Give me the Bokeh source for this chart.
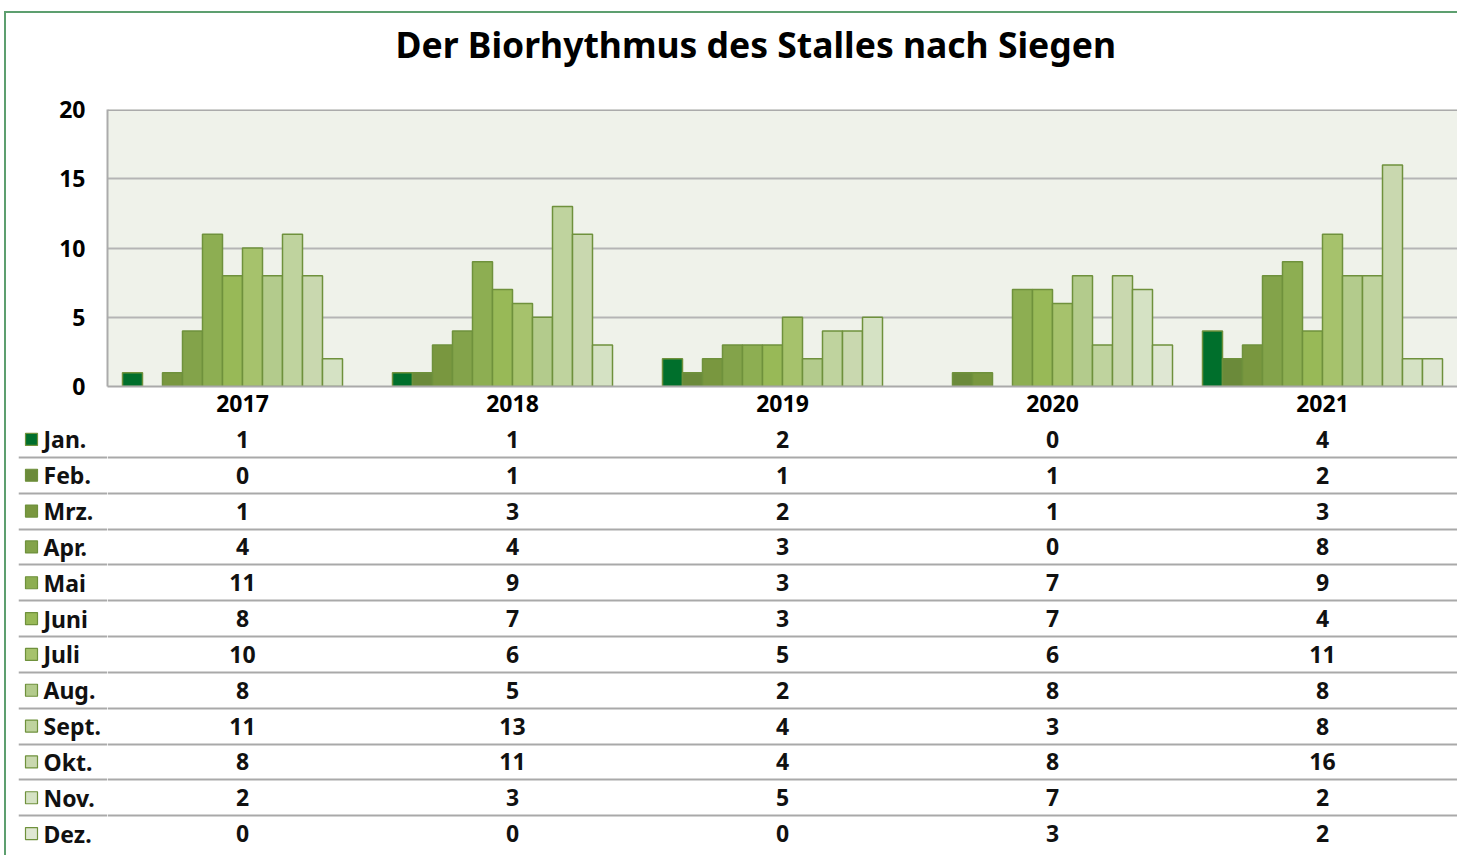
from bokeh.plotting import figure
from bokeh.models import (ColumnDataSource, FactorRange, Range1d, FixedTicker,
                          Grid, Span, Title)
from bokeh.layouts import column, row
from bokeh.transform import dodge
from bokeh.core.properties import value
from bokeh.embed import file_html
from bokeh.resources import INLINE

# ---------------- data ----------------
years = ["2017", "2018", "2019", "2020", "2021"]
months = ["Jan.", "Feb.", "Mrz.", "Apr.", "Mai", "Juni", "Juli",
          "Aug.", "Sept.", "Okt.", "Nov.", "Dez."]

jan = [1, 1, 2, 0, 4]
feb = [0, 1, 1, 1, 2]
mrz = [1, 3, 2, 1, 3]
apr = [4, 4, 3, 0, 8]
mai = [11, 9, 3, 7, 9]
jun = [8, 7, 3, 7, 4]
jul = [10, 6, 5, 6, 11]
aug = [8, 5, 2, 8, 8]
sep = [11, 13, 4, 3, 8]
okt = [8, 11, 4, 8, 16]
nov = [2, 3, 5, 7, 2]
dez = [0, 0, 0, 3, 2]
counts = [jan, feb, mrz, apr, mai, jun, jul, aug, sep, okt, nov, dez]

title_text = "Der Biorhythmus des Stalles nach Siegen"
y_ticks = [0, 5, 10, 15, 20]

colors = ["#006f2c", "#6b8a3a", "#79973f", "#83a34a", "#8dae52", "#98b957",
          "#a6c26c", "#b3cb8c", "#bfd39e", "#c9d8af", "#d5e2c4", "#dfe7d3"]
outline = "#6f913c"
FONT = "Noto Sans"
W = 1451
LEFT = 101

# ---------------- title strip ----------------
pt = figure(width=W, height=81, x_range=Range1d(0, 1), y_range=Range1d(0, 1),
            x_axis_type=None, y_axis_type=None, output_backend="svg",
            toolbar_location=None, min_border_left=LEFT, min_border_right=0,
            min_border_top=0, min_border_bottom=0, outline_line_color=None,
            background_fill_color="white", border_fill_color="white")
pt.title = Title(text=title_text, text_font=FONT, text_font_size="35.5px",
                 text_font_style="bold", text_color="black", align="left",
                 offset=288, standoff=9)

# ---------------- chart ----------------
pa = figure(width=W, height=326, x_range=FactorRange(*years, range_padding=0),
            y_range=Range1d(0, 20), output_backend="svg", toolbar_location=None,
            min_border_left=LEFT, min_border_right=0, min_border_top=15,
            min_border_bottom=34, background_fill_color="#eff2ea",
            border_fill_color="white", outline_line_color=None)

bar_w = 1 / 13.5
for j, (m, vals, c) in enumerate(zip(months, counts, colors)):
    ys = [y for y, v in zip(years, vals) if v > 0]
    vs = [v for v in vals if v > 0]
    src = ColumnDataSource(dict(year=ys, count=vs))
    pa.vbar(x=dodge("year", (j - 5.5) * bar_w, range=pa.x_range), top="count",
            width=bar_w, source=src, fill_color=c, line_color=outline,
            line_width=1.5)

pa.xgrid.grid_line_color = None
pa.ygrid.ticker = FixedTicker(ticks=y_ticks)
pa.ygrid.grid_line_color = "#b5b5b5"
pa.ygrid.grid_line_width = 2
pa.add_layout(Span(location=y_ticks[-1], dimension="width",
                   line_color="#ababab", line_width=3))

pa.yaxis.ticker = FixedTicker(ticks=y_ticks)
pa.yaxis.axis_line_color = "#ababab"
pa.yaxis.axis_line_width = 2
pa.yaxis.major_tick_out = 0
pa.yaxis.major_tick_in = 0
pa.yaxis.minor_tick_out = 0
pa.yaxis.major_label_standoff = 22
pa.yaxis.major_label_text_font = FONT
pa.yaxis.major_label_text_font_size = "23px"
pa.yaxis.major_label_text_font_style = "bold"
pa.yaxis.major_label_text_color = "black"

pa.xaxis.axis_line_color = "#aaaaaa"
pa.xaxis.axis_line_width = 2
pa.xaxis.major_tick_out = 0
pa.xaxis.major_tick_in = 0
pa.xaxis.major_label_standoff = 8
pa.xaxis.major_label_text_font = FONT
pa.xaxis.major_label_text_font_size = "23px"
pa.xaxis.major_label_text_font_style = "bold"
pa.xaxis.major_label_text_color = "black"

# ---------------- table ----------------
row_range = FactorRange(*reversed(months), range_padding=0)
sep_ticker = FixedTicker(ticks=list(range(1, 12)))

# left part: legend swatches + month names
pl = figure(width=LEFT, height=435, x_range=Range1d(0, 89), y_range=row_range,
            x_axis_type=None, y_axis_type=None, output_backend="svg",
            toolbar_location=None, min_border_left=12, min_border_right=0,
            min_border_top=1, min_border_bottom=4, outline_line_color=None,
            background_fill_color="white", border_fill_color="white")
pl.add_layout(Grid(dimension=1, ticker=sep_ticker, grid_line_color="#a9a9a9",
                   grid_line_width=2))
lsrc = ColumnDataSource(dict(month=months, color=colors))
pl.scatter(x=13, y="month", source=lsrc, marker="square", size=12,
           fill_color="color", line_color=outline, line_width=1.2)
pl.text(x=25, y="month", text="month", source=lsrc, text_align="left",
        text_baseline="middle", text_font=value(FONT), text_font_style="bold",
        text_font_size="23px", text_color="#111111")

# value cells
pb = figure(width=W - LEFT, height=435, x_range=pa.x_range, y_range=row_range,
            x_axis_type=None, y_axis_type=None, output_backend="svg",
            toolbar_location=None, min_border_left=0, min_border_right=0,
            min_border_top=1, min_border_bottom=4, outline_line_color=None,
            background_fill_color="white", border_fill_color="white")

cell_year, cell_month, cell_text = [], [], []
for m, vals in zip(months, counts):
    for y, v in zip(years, vals):
        cell_year.append(y)
        cell_month.append(m)
        cell_text.append(str(v))
tsrc = ColumnDataSource(dict(year=cell_year, month=cell_month, label=cell_text))
pb.text(x="year", y="month", text="label", source=tsrc, text_align="center",
        text_baseline="middle", text_font=value(FONT), text_font_style="bold",
        text_font_size="23px", text_color="#111111")
pb.add_layout(Grid(dimension=1, ticker=sep_ticker, grid_line_color="#a9a9a9",
                   grid_line_width=2))

layout = column(pt, pa, row(pl, pb, spacing=0), spacing=0, margin=(11, 0, 0, 4),
                styles={"border-left": "2px solid #5d9f6f",
                        "border-top": "2px solid #5d9f6f"})

open("out.html", "w").write(file_html(layout, INLINE))
